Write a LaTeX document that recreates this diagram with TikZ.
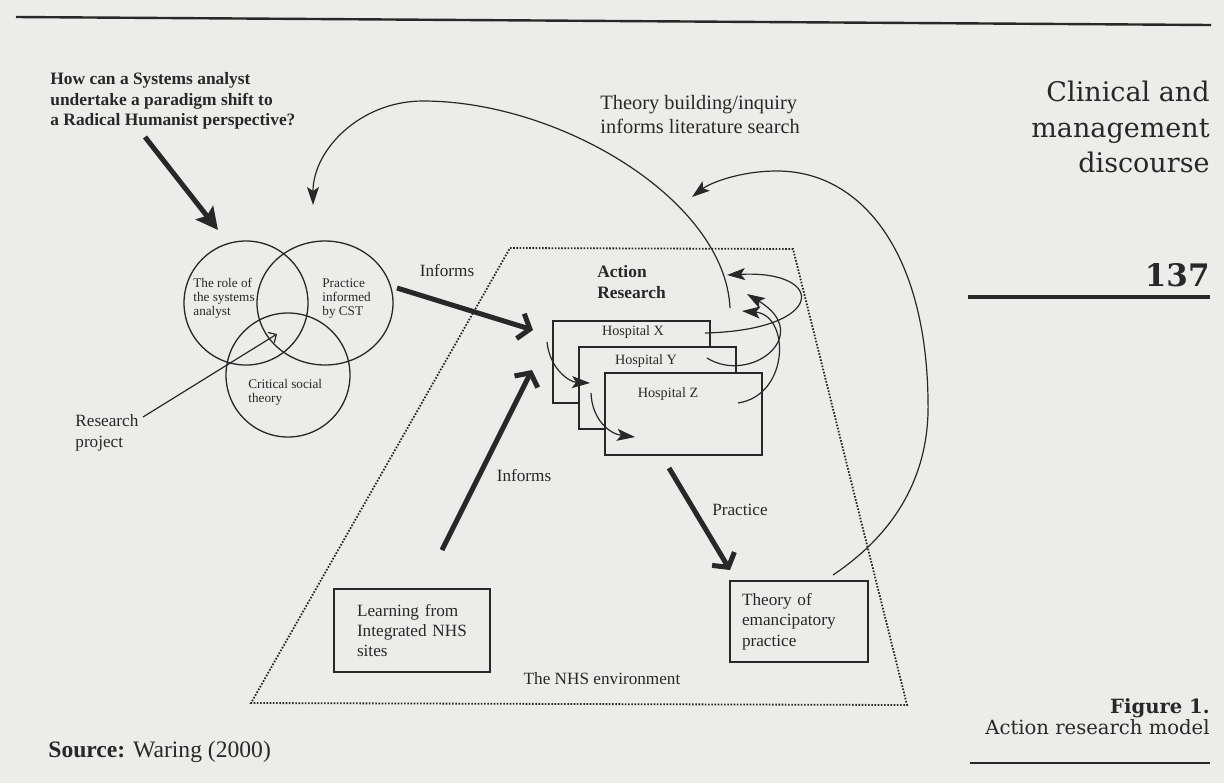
\documentclass[tikz,border=0pt]{standalone}
\usepackage{fontspec}
\setmainfont{Liberation Serif}
\newfontfamily\headfont{DejaVu Serif}
\usetikzlibrary{arrows.meta,shapes.geometric}
\definecolor{paper}{RGB}{236,236,234}
\definecolor{ink}{RGB}{40,40,40}
\tikzset{
  txt/.style={text=ink, inner sep=0pt, align=left, font=\fontsize{8.6}{10.2}\selectfont},
  boldtxt/.style={txt, font=\fontsize{8.7}{10.3}\selectfont\bfseries},
  smalltxt/.style={txt, font=\fontsize{6.6}{7}\selectfont},
  hosptxt/.style={txt, font=\fontsize{7.1}{8}\selectfont},
  arctxt/.style={txt, font=\fontsize{10.2}{12}\selectfont},
  headtxt/.style={txt, align=right, font=\headfont\fontsize{13.5}{17.8}\selectfont},
  venn/.style={draw=ink, line width=0.65pt, circle, minimum size=62pt, inner sep=0pt},
  hosp/.style={draw=ink, fill=paper, line width=0.65pt, minimum width=78.5pt, minimum height=41pt, inner sep=0pt},
  sitebox/.style={txt, draw=ink, line width=0.65pt, inner ysep=0pt},
  heavyarrow/.style={draw=ink, line width=2.5pt, -{Stealth[length=11pt,width=11pt,inset=2pt]}},
  barbarrow/.style={draw=ink, line width=2.5pt, -{Straight Barb[length=5pt,width=13pt]}},
  thinarc/.style={draw=ink, line width=0.6pt, -{Stealth[length=9pt,width=6pt,inset=2pt]}},
  thinarrow/.style={draw=ink, line width=0.6pt, -{Straight Barb[length=3pt,width=6pt]}}
}
\begin{document}
\begin{tikzpicture}[x=0.5pt,y=-0.5pt]
  % page, running rules and margin texts
  \useasboundingbox (0,0) rectangle (1224,783);
  \fill[paper] (0,0) rectangle (1224,783);
  \draw[ink, line width=1.2pt] (16,17) -- (1211,25);
  \node[headtxt, anchor=east] (journal) at (1210,127) {Clinical and\\management\\discourse};
  \node[headtxt, anchor=east, font=\headfont\fontsize{15.5}{18}\selectfont\bfseries] (page) at (1210,275) {137};
  \draw[ink, line width=2pt] (968,297) -- (1210,297);
  \node[headtxt, anchor=east, font=\headfont\fontsize{9.8}{9.6}\selectfont] (caption) at (1210,717) {\textbf{Figure 1.}\\Action research model};
  \draw[ink, line width=0.75pt] (970,763) -- (1210,763);
  \node[txt, anchor=west, font=\fontsize{11.8}{14}\selectfont] (source) at (48,752) {\textbf{Source:} Waring (2000)};

  % the question and the three circles
  \node[boldtxt, anchor=west] (question) at (50,101) {How can a Systems analyst\\undertake a paradigm shift to\\a Radical Humanist perspective?};
  \node[venn] (role) at (246,303) {};
  \node[venn, ellipse, minimum width=68pt, minimum height=62pt] (practice) at (325,303) {};
  \node[venn] (cst) at (288,375) {};
  \node[smalltxt, anchor=west] (rolelbl) at (193,298) {The role of\\the systems\\analyst};
  \node[smalltxt, anchor=west] (practicelbl) at (322,299) {Practice\\informed\\by CST};
  \node[smalltxt, anchor=west] (cstlbl) at (248,392) {Critical social\\theory};
  \node[txt, anchor=west] (research) at (75,433) {Research\\project};
  \coordinate (qstart) at (145,137);
  \coordinate (qend) at (218,230);
  \coordinate (rstart) at (143,417);
  \coordinate (rend) at (277,334);
  \draw[heavyarrow] (qstart) -- (qend);
  \draw[thinarrow] (rstart) -- (rend);

  % the NHS environment
  \draw[ink, line width=0.9pt, dash pattern=on 0.8pt off 0.8pt] (510,248) -- (793,249) -- (907,705) -- (251,703) -- cycle;
  \node[txt] (nhs) at (602,679) {The NHS environment};
  \node[sitebox, minimum width=78pt, minimum height=41.5pt, text width=55pt, inner xsep=11.5pt] (learn) at (412,630.5) {Learning from\\Integrated NHS\\sites};
  \node[sitebox, line width=1.1pt, minimum height=40.5pt, text width=57pt, inner xsep=6pt] (theory) at (799,621.5) {Theory of\\emancipatory\\practice};

  % action research in the three hospitals
  \node[boldtxt, anchor=west] (action) at (597,282) {Action\\Research};
  \node[hosp] (hx) at (631.5,362) {};
  \node[hosptxt] (hxl) at (633,332) {Hospital X};
  \node[hosp] (hy) at (657.5,388) {};
  \node[hosptxt] (hyl) at (646,361) {Hospital Y};
  \node[hosp] (hz) at (683.5,414) {};
  \node[hosptxt] (hzl) at (668,394) {Hospital Z};

  % informs and practice
  \node[txt] (inform1) at (447,271) {Informs};
  \node[txt] (inform2) at (524,476) {Informs};
  \node[txt] (practise) at (740,510) {Practice};
  \coordinate (i1start) at (397,288);
  \coordinate (i1end) at (533,330);
  \coordinate (i2start) at (442,550);
  \coordinate (i2end) at (532,370);
  \coordinate (pstart) at (669,468);
  \coordinate (pend) at (730,570);
  \draw[barbarrow] (i1start) -- (i1end);
  \draw[barbarrow] (i2start) -- (i2end);
  \draw[barbarrow] (pstart) -- (pend);

  % cycles between the hospitals
  \coordinate (xy1) at (547,342);
  \coordinate (xy2) at (590,383);
  \coordinate (yz1) at (591,393);
  \coordinate (yz2) at (635,437);
  \draw[thinarc] (xy1) .. controls (550,370) and (570,382) .. (xy2);
  \draw[thinarc] (yz1) .. controls (592,420) and (610,434) .. (yz2);
  \coordinate (xloop1) at (705,333);
  \coordinate (xloop2) at (727,275);
  \coordinate (yloop1) at (707,358);
  \coordinate (yloop2) at (747,294);
  \coordinate (zloop1) at (738,403);
  \coordinate (zloop2) at (742,311);
  \draw[thinarc] (xloop1) .. controls (827,330) and (827,270) .. (xloop2);
  \draw[thinarc] (yloop1) .. controls (750,385) and (815,335) .. (yloop2);
  \draw[thinarc] (zloop1) .. controls (790,395) and (790,315) .. (zloop2);

  % theory building feeds back
  \node[arctxt, anchor=west] (tblbl) at (600,115) {Theory building/inquiry\\informs literature search};
  \coordinate (tbstart) at (730,308);
  \coordinate (tbend) at (313,205);
  \draw[thinarc] (tbstart) .. controls (725,200) and (560,101) .. (423,101) .. controls (360,101) and (313,150) .. (tbend);
  \coordinate (emstart) at (833,575);
  \coordinate (emend) at (692,197);
  \draw[thinarc] (emstart) .. controls (900,530) and (930,470) .. (928,400) .. controls (926,250) and (860,171) .. (777,171) .. controls (740,171) and (710,183) .. (emend);
\end{tikzpicture}
\end{document}
